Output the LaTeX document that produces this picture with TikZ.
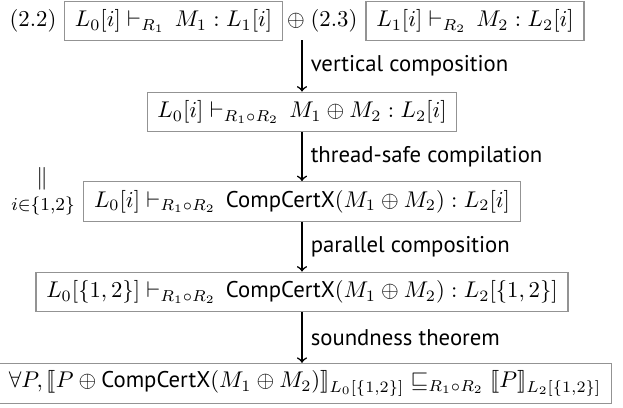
\documentclass[tikz,border=0pt]{standalone}
\usepackage{amsmath,amssymb,stmaryrd}
\usepackage{fontspec}
\setsansfont{PT Sans}
\newcommand{\ccx}{\textsf{CompCertX}}
\begin{document}
\begin{tikzpicture}[x=0.44pt, y=-0.44pt,
			judge/.style={draw=gray!85, line width=0.5pt, minimum height=17.5pt, inner xsep=4.5pt},
			plain/.style={inner sep=1pt},
			step label/.style={right, font=\sffamily, inner sep=3.5pt},
			refine/.style={->, line width=0.7pt}]
		\useasboundingbox (0,0) rectangle (623,408);

		\node[plain] (r1) at (33,21) {(2.2)};
		\node[judge] (1) at (173.5,21) {$L_0[i] \vdash_{R_1}\, M_1 : L_1[i]$};
		\node[plain] (oplus) at (296,21) {$\oplus$};
		\node[plain] (r2) at (334,21) {(2.3)};
		\node[judge] (2) at (475,21) {$L_1[i] \vdash_{R_2}\, M_2 : L_2[i]$};
		\coordinate (top) at (302,40);

		\node[judge] (3) at (302,112) {$L_0[i] \vdash_{R_1\circ R_2}\, M_1 \oplus M_2 : L_2[i]$};
		\node[plain] (par) at (42,179) {$\|$};
		\node[plain, font=\large] (idx) at (43,206) {$\scriptstyle i\in\{1,2\}$};
		\node[judge] (4) at (302,201.5) {$L_0[i] \vdash_{R_1\circ R_2}\, \text{\ccx}(M_1 \oplus M_2) : L_2[i]$};
		\node[judge] (5) at (302,292) {$L_0[\{1,2\}] \vdash_{R_1\circ R_2}\, \text{\ccx}(M_1 \oplus M_2) : L_2[\{1,2\}]$};
		\node[judge] (6) at (305,383.5) {$\forall P, \llbracket P \oplus \text{\ccx}(M_1 \oplus M_2)\rrbracket_{L_0[\{1,2\}]} \sqsubseteq_{R_1\circ R_2} \llbracket P\rrbracket_{L_2[\{1,2\}]}$};

		\draw[refine] (top) -- (3) node[step label, midway] {vertical composition};
		\draw[refine] (3) -- (4) node[step label, midway] {thread-safe compilation};
		\draw[refine] (4) -- (5) node[step label, midway] {parallel composition};
		\draw[refine] (5) -- (5 |- 6.north) node[step label, midway] {soundness theorem};
	\end{tikzpicture}
\end{document}
